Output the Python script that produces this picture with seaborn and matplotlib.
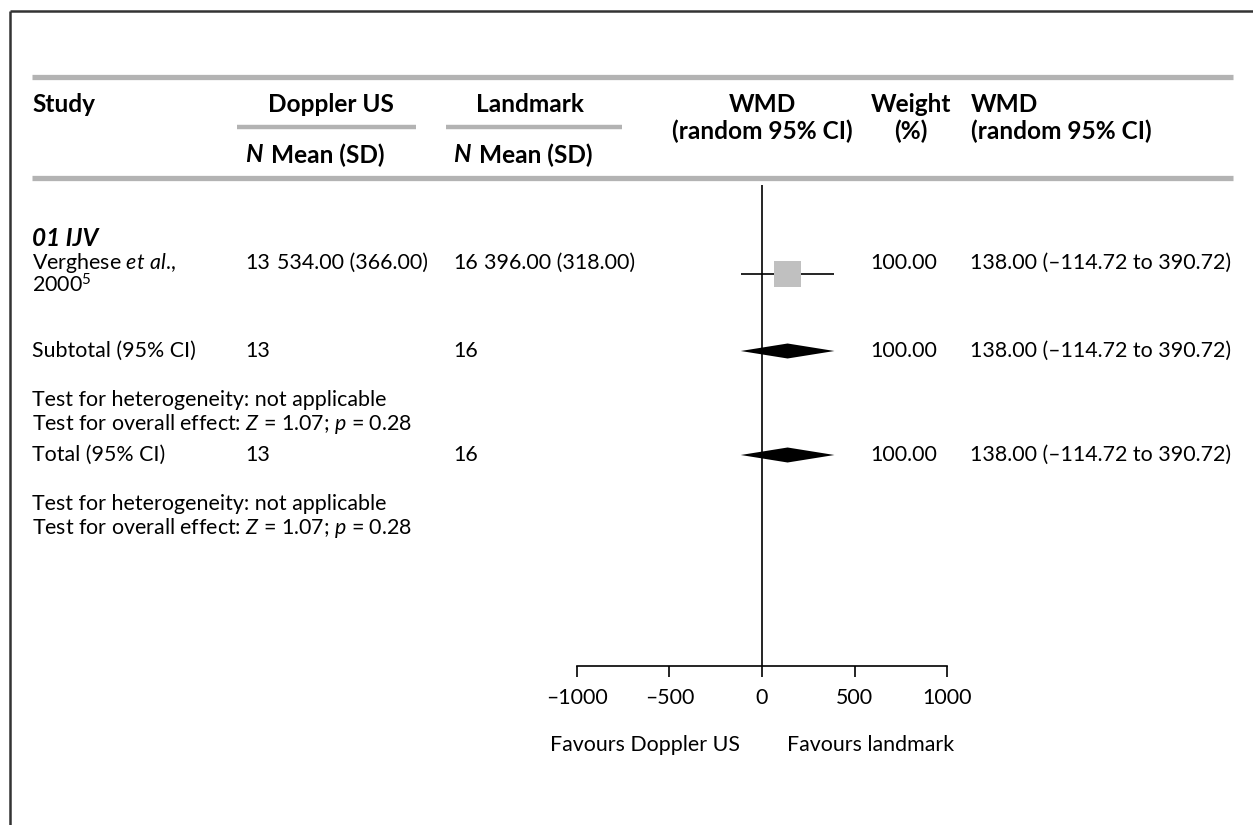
import matplotlib
matplotlib.use("Agg")
import matplotlib.pyplot as plt
import seaborn as sns
import pandas as pd

# ---- data -------------------------------------------------------------
subgroup = "01 IJV"
study_name = "Verghese"
study_year = "2000"
study_ref = "5"
n_doppler = [13]
mean_doppler = [534.00]
sd_doppler = [366.00]
n_landmark = [16]
mean_landmark = [396.00]
sd_landmark = [318.00]
wmd = [138.00]
ci_low = [-114.72]
ci_high = [390.72]
weight = [100.00]

subtotal_n = [13, 16]
subtotal_est = [138.00, -114.72, 390.72]
subtotal_weight = 100.00
total_n = [13, 16]
total_est = [138.00, -114.72, 390.72]
total_weight = 100.00
z_value = 1.07
p_value = 0.28

x_ticks = [-1000, -500, 0, 500, 1000]

# ---- style --------------------------------------------------------------
sns.set_theme(style="white")
plt.rcParams["font.family"] = ["Lato", "DejaVu Sans"]
plt.rcParams["mathtext.fontset"] = "custom"
plt.rcParams["mathtext.rm"] = "Lato"
plt.rcParams["mathtext.it"] = "Lato:italic"
plt.rcParams["mathtext.bf"] = "Lato:bold"

W, H = 1253, 825
FS = 15.4
FSB = 17.6
RULE = "#b3b3b3"

fig = plt.figure(figsize=(W / 100, H / 100), dpi=100)
fig.patch.set_facecolor("white")

# page layer in pixel units
bg = fig.add_axes([0, 0, 1, 1])
bg.set_xlim(0, W)
bg.set_ylim(H, 0)
bg.axis("off")

# forest plot panel
px_left, px_right, px_top, px_bottom = 576.7, 947.3, 185, 666
ax = fig.add_axes([px_left / W, 1 - px_bottom / H,
                   (px_right - px_left) / W, (px_bottom - px_top) / H])
ax.set_xlim(x_ticks[0], x_ticks[-1])
ax.set_ylim(px_bottom, px_top)
ax.patch.set_alpha(0)
for side in ["top", "right", "left"]:
    ax.spines[side].set_visible(False)
ax.spines["bottom"].set_color("black")
ax.spines["bottom"].set_linewidth(1.2)
ax.set_yticks([])
ax.set_xticks(x_ticks)
ax.set_xticklabels([f"{t}".replace("-", "\u2013") for t in x_ticks])
ax.tick_params(axis="x", direction="out", length=8, width=1.2,
               colors="black", labelsize=FS, pad=8, bottom=True)
ax.axvline(0, color="black", lw=1.2, zorder=1)

# frame
bg.plot([10, 10], [11, H], color="#333333", lw=1.8, solid_capstyle="butt")
bg.plot([10, W], [11, 11], color="#333333", lw=1.8, solid_capstyle="butt")

# header rules
bg.plot([32, 1233], [77, 77], color=RULE, lw=3.8, solid_capstyle="butt")
bg.plot([32, 1233], [178, 178], color=RULE, lw=3.8, solid_capstyle="butt")
bg.plot([237, 416], [127, 127], color=RULE, lw=3.2, solid_capstyle="butt")
bg.plot([446, 622], [127, 127], color=RULE, lw=3.2, solid_capstyle="butt")

def txt(x, y, s, ha="left", size=FS, **kw):
    bg.text(x, y, s, ha=ha, va="center", fontsize=size, color="black", **kw)

def head(x, y, s, ha="left", **kw):
    txt(x, y, s, ha=ha, size=FSB, weight="bold", **kw)

# header text
head(32, 105, "Study")
head(331, 105, "Doppler US", ha="center")
head(530, 105, "Landmark", ha="center")
head(762, 105, "WMD", ha="center")
head(762, 131, "(random 95% CI)", ha="center")
head(911, 105, "Weight", ha="center")
head(911, 131, "(%)", ha="center")
head(971, 105, "WMD")
head(971, 131, "(random 95% CI)")
for nx, mx in [(245, 271), (453, 479)]:
    head(nx, 155, "N", style="italic")
    head(mx, 155, "Mean (SD)")

# rows (vertical layout in pixels)
y_group, y_study, y_sub, y_total = 239, 274, 351, 455
y_tests_sub = [400, 424]
y_tests_tot = [504, 528]

def ci_text(est, lo, hi):
    return f"{est:.2f} ({lo:.2f} to {hi:.2f})".replace("-", "\u2013")

head(32, y_group, subgroup, style="italic")
txt(32, y_study - 11, study_name + r" $\mathit{et\ al}$.,")
txt(32, y_study + 11, study_year + r"$^{" + study_ref + "}$")
for i in range(len(wmd)):
    txt(245, y_study - 11, f"{n_doppler[i]}")
    txt(277, y_study - 11, f"{mean_doppler[i]:.2f} ({sd_doppler[i]:.2f})")
    txt(453, y_study - 11, f"{n_landmark[i]}")
    txt(484, y_study - 11, f"{mean_landmark[i]:.2f} ({sd_landmark[i]:.2f})")
    txt(937, y_study - 11, f"{weight[i]:.2f}", ha="right")
    txt(970, y_study - 11, ci_text(wmd[i], ci_low[i], ci_high[i]))

# study estimate: CI whisker and weighted square
df = pd.DataFrame({"wmd": wmd, "y": [y_study], "lo": ci_low, "hi": ci_high})
ax.hlines(df["y"], df["lo"], df["hi"], color="black", lw=1.2, zorder=2)
sns.scatterplot(data=df, x="wmd", y="y", marker="s", s=360, color="#c0c0c0",
                edgecolor="none", linewidth=0, legend=False, ax=ax, zorder=3)
ax.set_xlabel("")
ax.set_ylabel("")

def diamond(y, est, lo, hi, h=7.5):
    ax.fill([lo, est, hi, est], [y, y - h, y, y + h], color="black",
            lw=0, zorder=3)

for label, y, ns, est, w, ty in [
        ("Subtotal (95% CI)", y_sub, subtotal_n, subtotal_est, subtotal_weight, y_tests_sub),
        ("Total (95% CI)", y_total, total_n, total_est, total_weight, y_tests_tot)]:
    txt(32, y, label)
    txt(245, y, f"{ns[0]}")
    txt(453, y, f"{ns[1]}")
    txt(937, y, f"{w:.2f}", ha="right")
    txt(970, y, ci_text(*est))
    diamond(y, *est)
    txt(32, ty[0], "Test for heterogeneity: not applicable")
    txt(32, ty[1], rf"Test for overall effect: $Z$ = {z_value:.2f}; $p$ = {p_value:.2f}")

txt(740, 745, "Favours Doppler US", ha="right")
txt(787, 745, "Favours landmark")

fig.savefig("out.png", dpi=100, facecolor="white")
